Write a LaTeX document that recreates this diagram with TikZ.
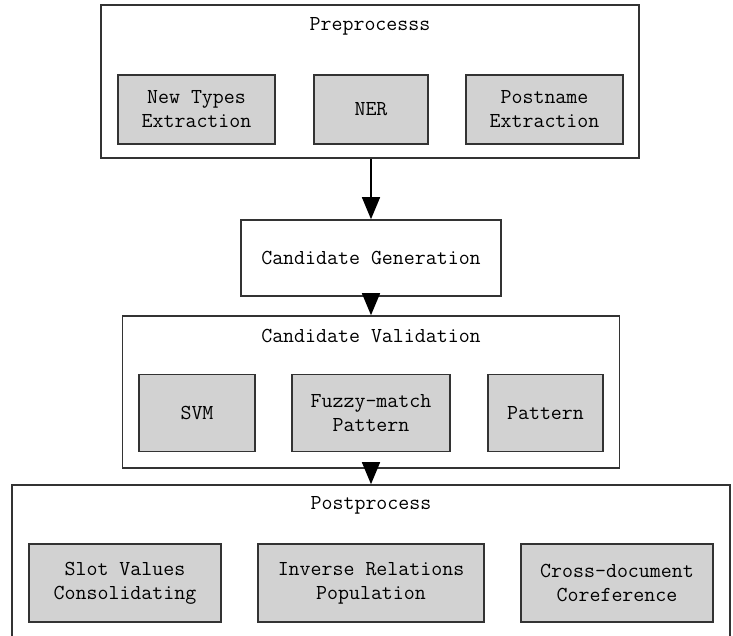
\documentclass[tikz,border=0pt]{standalone}
\usepackage{fontspec}
\usepackage{tikz}
\usetikzlibrary{arrows.meta, calc}
\tikzset{
  sf box/.style={
    rectangle, draw=black!80, line width=1.6pt, fill=white,
    inner sep=0pt, align=center,
    font=\ttfamily\fontsize{21.3}{24}\selectfont
  },
  sf step/.style={
    sf box, fill=gray!35
  },
  sf arrow/.style={
    -{Triangle[length=22pt, width=18pt]}, line width=1.5pt, draw=black
  },
  sf title/.style={
    font=\ttfamily\fontsize{21.3}{24}\selectfont, inner sep=0pt
  }
}

\begin{document}
\begin{tikzpicture}[x=1pt, y=-1pt]
\useasboundingbox (0,0) rectangle (733,636);

% ====== STAGE 1: Preprocess ======
\node[sf box, minimum width=538pt, minimum height=153pt] (pre) at (370,81.5) {};
\node[sf title] (pretitle) at (370,26) {Preprocesss};
\node[sf step, minimum width=157pt, minimum height=69pt] (ntype) at (196.5,109.5) {New Types\\Extraction};
\node[sf step, minimum width=114.5pt, minimum height=69pt] (ner) at (371,109.5) {NER};
\node[sf step, minimum width=157pt, minimum height=69pt] (pname) at (544.5,109.5) {Postname\\Extraction};

% ====== STAGE 2: Candidate Generation ======
\node[sf box, minimum width=260pt, minimum height=76pt] (gen) at (371,258) {Candidate Generation};

% ====== STAGE 3: Candidate Validation ======
\node[sf box, minimum width=497pt, minimum height=152pt] (val) at (371,392) {};
\node[sf title] (valtitle) at (371,336) {Candidate Validation};
\node[sf step, minimum width=116pt, minimum height=77pt] (svm) at (197,413) {SVM};
\node[sf step, minimum width=158pt, minimum height=77pt] (fuzzy) at (371,413) {Fuzzy-match\\Pattern};
\node[sf step, minimum width=115pt, minimum height=77pt] (pattern) at (545.5,413) {Pattern};

% ====== STAGE 4: Postprocess ======
\node[sf box, minimum width=718pt, minimum height=170pt] (post) at (371,570) {};
\node[sf title] (posttitle) at (371,505) {Postprocess};
\node[sf step, minimum width=191.5pt, minimum height=78pt] (slot) at (125,583) {Slot Values\\Consolidating};
\node[sf step, minimum width=226pt, minimum height=78pt] (inverse) at (371,583) {Inverse Relations\\Population};
\node[sf step, minimum width=192.5pt, minimum height=78pt] (coref) at (617,583) {Cross-document\\Coreference};

% -- flow between stages --
\draw[sf arrow] (pre.south -| gen.north) -- (gen.north);
\draw[sf arrow] (gen.south) -- (val.north);
\draw[sf arrow] (val.south) -- (post.north);

\end{tikzpicture}
\end{document}
